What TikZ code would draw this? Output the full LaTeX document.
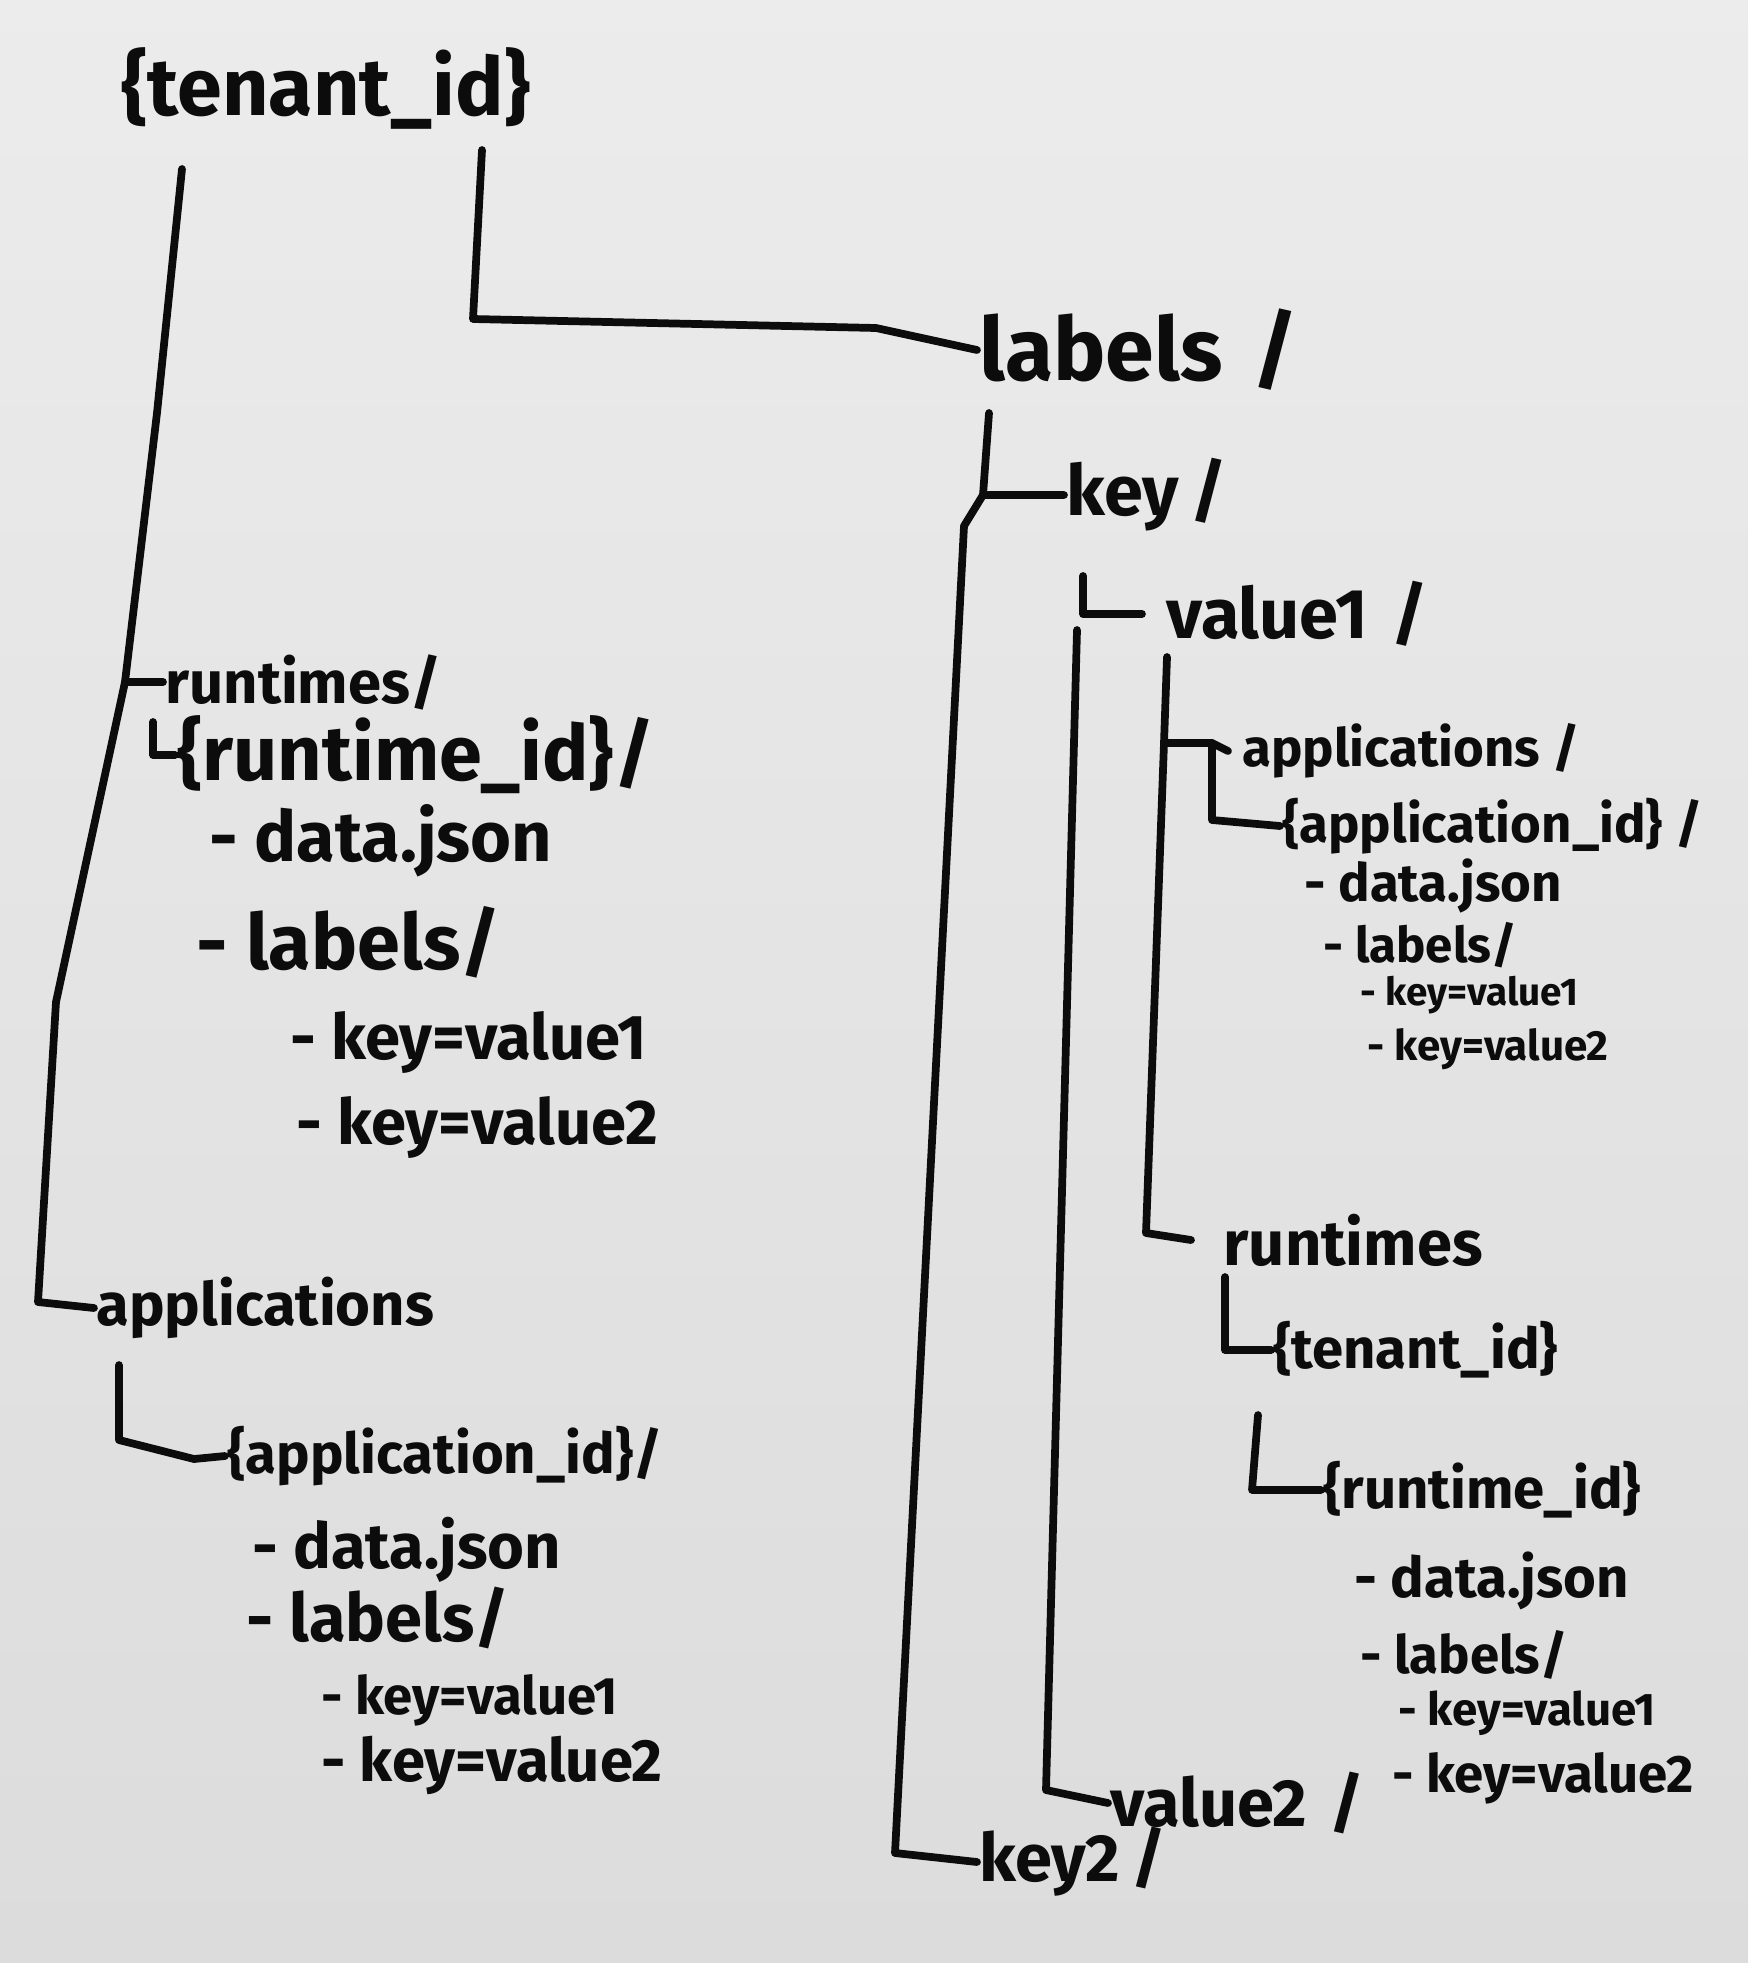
\documentclass[tikz,border=0pt]{standalone}
\usepackage{fontspec}
\setmainfont{Fira Sans}
\definecolor{board}{RGB}{220,220,220}
\definecolor{ink}{RGB}{12,12,12}

\begin{document}
\begin{tikzpicture}[
  pen/.style = {draw=ink, line width=2.2pt, line cap=round, line join=round},
  hw/.style = {anchor=west, inner sep=0.5pt, text=ink, font=\bfseries\fontsize{#1}{#1}\selectfont}
]
  \shade[top color=board!55!white, bottom color=board] (0,0) rectangle (17.48,-19.63);
  \useasboundingbox (0,0) rectangle (17.48,-19.63);

  % left tree
  \node[hw=23] (tenant) at (1.19,-0.88) {\{tenant\_id\}};
  \node[hw=17] (rts) at (1.63,-6.82) {runtimes/};
  \node[hw=22] (rtid) at (1.75,-7.55) {\{runtime\_id\}/};
  \node[hw=20] (rtdata) at (2.07,-8.41) {- data.json};
  \node[hw=22] (rtlab) at (1.94,-9.42) {- labels/};
  \node[hw=18] (rtkv1) at (2.88,-10.43) {- key=value1};
  \node[hw=18] (rtkv2) at (2.94,-11.27) {- key=value2};
  \node[hw=17] (apps) at (0.94,-13.08) {applications};
  \node[hw=16] (appid) at (2.25,-14.56) {\{application\_id\}/};
  \node[hw=18] (appdata) at (2.50,-15.50) {- data.json};
  \node[hw=19] (applab) at (2.44,-16.18) {- labels/};
  \node[hw=15] (appkv1) at (3.19,-17.00) {- key=value1};
  \node[hw=17] (appkv2) at (3.19,-17.65) {- key=value2};

  % right tree
  \node[hw=25] (labels) at (9.77,-3.50) {labels\,\,/};
  \node[hw=20] (key) at (10.64,-4.95) {key\,/};
  \node[hw=20] (valone) at (11.64,-6.14) {value1\,\,/};
  \node[hw=15] (rapps) at (12.40,-7.51) {applications /};
  \node[hw=15] (rappid) at (12.80,-8.26) {\{application\_id\} /};
  \node[hw=15] (rappdata) at (13.02,-8.86) {- data.json};
  \node[hw=14] (rapplab) at (13.21,-9.45) {- labels/};
  \node[hw=11] (rappkv1) at (13.58,-9.95) {- key=value1};
  \node[hw=12] (rappkv2) at (13.65,-10.49) {- key=value2};
  \node[hw=18] (rrts) at (12.21,-12.40) {runtimes};
  \node[hw=16] (rtenant) at (12.71,-13.50) {\{tenant\_id\}};
  \node[hw=16] (rrtid) at (13.21,-14.90) {\{runtime\_id\}};
  \node[hw=16] (rrtdata) at (13.52,-15.81) {- data.json};
  \node[hw=15] (rrtlab) at (13.58,-16.55) {- labels/};
  \node[hw=13] (rrtkv1) at (13.96,-17.13) {- key=value1};
  \node[hw=15] (rrtkv2) at (13.90,-17.78) {- key=value2};
  \node[hw=19] (valtwo) at (11.08,-18.03) {value2\,\,/};
  \node[hw=19] (keytwo) at (9.77,-18.62) {key2\,/};

  % connectors
  \coordinate (ltop) at (1.82,-1.69);
  \coordinate (lrt) at (1.25,-6.82);
  \coordinate (rtL) at (1.53,-7.22);
  \coordinate (appL) at (1.19,-13.65);
  \coordinate (rtop) at (4.82,-1.50);
  \coordinate (ltr) at (9.89,-4.13);
  \coordinate (kb) at (9.83,-4.95);
  \coordinate (kL) at (10.83,-5.76);
  \coordinate (ktr) at (10.77,-6.30);
  \coordinate (vtr) at (11.67,-6.57);
  \coordinate (vb) at (11.64,-7.43);
  \coordinate (rc) at (12.12,-7.43);
  \coordinate (rtsL) at (12.25,-12.77);
  \coordinate (tnL) at (12.58,-14.15);

  \draw[pen] (ltop) -- (1.57,-4.13) -- (lrt) -- (0.56,-10.02) -- (0.38,-13.02) -- (apps.west);
  \draw[pen] (lrt) -- (rts.west);
  \draw[pen] (rtL) |- (rtid.west);
  \draw[pen] (appL) -- (1.19,-14.40) -- (1.94,-14.59) -- (appid.west);

  \draw[pen] (rtop) -- (4.73,-3.19) -- (8.76,-3.28) -- (labels.west);
  \draw[pen] (ltr) -- (kb) -- (key.west);
  \draw[pen] (kb) -- (9.64,-5.26) -- (8.95,-18.53) -- (keytwo.west);
  \draw[pen] (kL) |- ([xshift=-0.22cm]valone.west);
  \draw[pen] (ktr) -- (10.46,-17.90) -- (valtwo.west);
  \draw[pen] (vtr) -- (vb) -- (11.46,-12.33) -- ([xshift=-0.3cm]rrts.west);
  \draw[pen] (vb) -- (rc) -- ([xshift=-0.12cm]rapps.west);
  \draw[pen] (rc) -- (12.12,-8.20) -- (rappid.west);
  \draw[pen] (rtsL) |- (rtenant.west);
  \draw[pen] (tnL) -- (12.52,-14.90) -- (rrtid.west);
\end{tikzpicture}
\end{document}
